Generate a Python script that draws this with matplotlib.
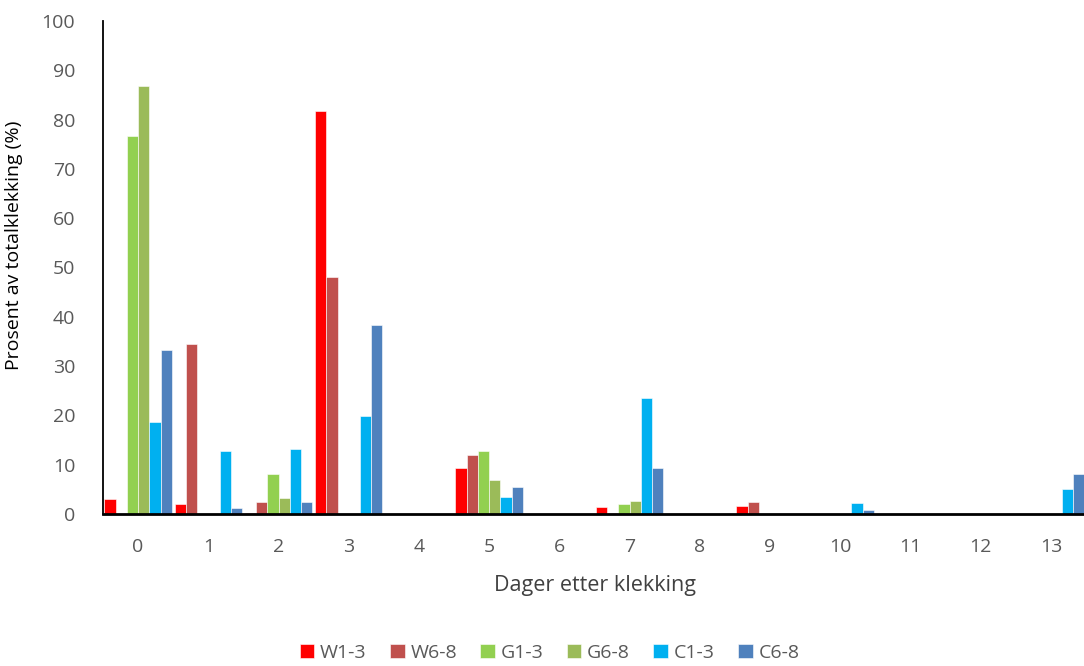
import numpy as np
import matplotlib.pyplot as plt

plt.rcParams['font.family'] = ['Open Sans', 'DejaVu Sans']

days = list(range(14))
series = ["W1-3", "W6-8", "G1-3", "G6-8", "C1-3", "C6-8"]
colors = ["#FF0000", "#C0504D", "#92D050", "#9BBB59", "#00B0F0", "#4F81BD"]

w1_3 = [3.1, 2.0, 0.2, 81.7, 0, 9.3, 0, 1.4, 0, 1.6, 0, 0, 0, 0]
w6_8 = [0, 34.5, 2.4, 48.0, 0, 11.9, 0, 0.2, 0, 2.4, 0, 0, 0, 0]
g1_3 = [76.6, 0, 8.1, 0, 0, 12.8, 0, 2.0, 0, 0, 0, 0, 0, 0]
g6_8 = [86.8, 0, 3.3, 0, 0, 6.8, 0, 2.6, 0, 0, 0, 0, 0, 0]
c1_3 = [18.7, 12.8, 13.2, 19.9, 0, 3.4, 0, 23.6, 0, 0, 2.3, 0, 0, 5.1]
c6_8 = [33.3, 1.2, 2.5, 38.3, 0, 5.4, 0, 9.3, 0, 0, 0.9, 0, 0, 8.1]

values = [w1_3, w6_8, g1_3, g6_8, c1_3, c6_8]

W, H = 1084, 666
fig = plt.figure(figsize=(W / 100, H / 100), dpi=100)
ax = fig.add_axes([103 / W, (H - 514) / H, (1086 - 103) / W, 493 / H])

x = np.arange(len(days))
bw = 0.16
for i, (name, vals, c) in enumerate(zip(series, values, colors)):
    ax.bar(x + (i - 2.5) * bw, vals, width=bw, color=c, label=name,
           edgecolor="white", linewidth=0.4)

ax.set_xlim(-0.5, 13.5)
ax.set_ylim(0, 100)
ax.set_yticks(range(0, 101, 10))
ax.set_xticks(x)
ax.set_xticklabels([str(d) for d in days])
ax.tick_params(axis="both", length=0, labelsize=14, colors="#595959")
ax.tick_params(axis="x", pad=17)
ax.tick_params(axis="y", pad=20)

for s in ["top", "right"]:
    ax.spines[s].set_visible(False)
ax.spines["left"].set_linewidth(1.3)
ax.spines["bottom"].set_linewidth(2)
ax.spines["left"].set_color("black")
ax.spines["bottom"].set_color("black")

ax.set_ylabel("Prosent av totalklekking (%)", fontsize=14, color="black")
ax.yaxis.set_label_coords(-80 / 983, 0.545)
ax.set_xlabel("Dager etter klekking", fontsize=15.5, color="#404040", labelpad=14)

fig.legend(loc="lower center", ncol=6, frameon=False, fontsize=14,
           bbox_to_anchor=(0.507, -0.02), handlelength=0.75, handleheight=0.75,
           handletextpad=0.3, columnspacing=1.2, labelcolor="#595959")

fig.savefig("out.png", dpi=100)
